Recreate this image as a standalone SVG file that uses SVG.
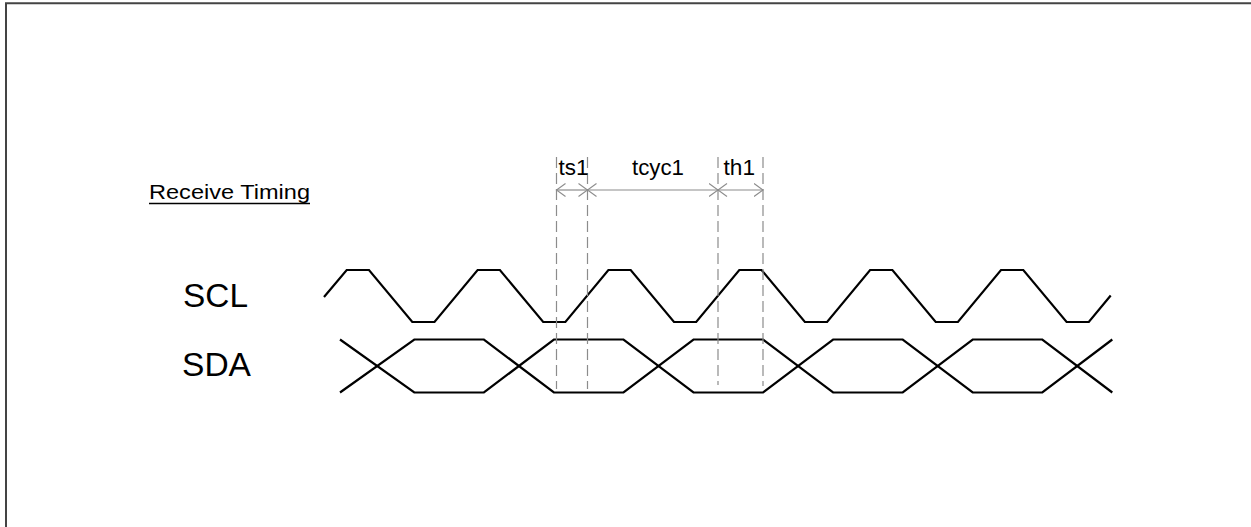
<svg xmlns="http://www.w3.org/2000/svg" width="1251" height="527" viewBox="0 0 1251 527">
  <style>
    .wave { fill: none; stroke: #000; stroke-width: 2.2; stroke-linejoin: miter; }
    .ext { stroke: #8c8c8c; stroke-width: 1.2; stroke-dasharray: 11 5; fill: none; }
    .dim { stroke: #8c8c8c; stroke-width: 1.2; fill: none; }
    .lbl { font-family: "Liberation Sans", Arial, sans-serif; fill: #000; }
  </style>
  <defs>
    <marker id="arr" markerUnits="userSpaceOnUse" markerWidth="12" markerHeight="15" refX="9.5" refY="7" orient="auto-start-reverse" viewBox="0 0 12 15">
      <path d="M0.5,0.5 L9.5,7 L0.5,13.5" fill="none" stroke="#8c8c8c" stroke-width="1.1"/>
    </marker>
  </defs>
  <rect width="1251" height="527" fill="#fff"/>
  <g id="frame">
    <path d="M6,527 V3.2 H1251" fill="none" stroke="#444" stroke-width="2"/>
  </g>
  <g id="title">
    <text class="lbl" x="149" y="198.5" font-size="20.5" textLength="161" lengthAdjust="spacingAndGlyphs">Receive Timing</text>
    <line x1="149" y1="203.5" x2="310" y2="203.5" stroke="#000" stroke-width="1.4"/>
  </g>
  <g id="scl">
    <text class="lbl" x="183" y="306.5" font-size="34" textLength="65" lengthAdjust="spacingAndGlyphs">SCL</text>
    <path class="wave" d="M324,297 L346.7,270 L369,270 L412.3,322 L434.5,322 L477.6,270 L499.9,270 L543.2,322 L565.4,322 L608.4,270 L630.7,270 L674,322 L696.2,322 L739.3,270 L761.6,270 L804.9,322 L827.1,322 L870.1,270 L892.4,270 L935.7,322 L957.9,322 L1001,270 L1023.3,270 L1066.6,322 L1088.8,322 L1110.7,295.5"/>
  </g>
  <g id="sda">
    <text class="lbl" x="182" y="376" font-size="33" textLength="69" lengthAdjust="spacingAndGlyphs">SDA</text>
    <path class="wave" d="M340,339.5 L414.3,392.5 L483.9,392.5 L553.9,339.5 L623.5,339.5 L693.5,392.5 L763.1,392.5 L833.1,339.5 L902.7,339.5 L972.7,392.5 L1042.3,392.5 L1112.3,339.5"/>
    <path class="wave" d="M340,392.5 L414.3,339.5 L483.9,339.5 L553.9,392.5 L623.5,392.5 L693.5,339.5 L763.1,339.5 L833.1,392.5 L902.7,392.5 L972.7,339.5 L1042.3,339.5 L1112.3,392.5"/>
  </g>
  <g id="connectors">
    <line class="ext" x1="556.5" y1="157" x2="556.5" y2="389"/>
    <line class="ext" x1="587.5" y1="157" x2="587.5" y2="389"/>
    <line class="ext" x1="718" y1="157" x2="718" y2="385"/>
    <line class="ext" x1="763" y1="157" x2="763" y2="386"/>
    <line class="dim" x1="556.5" y1="190" x2="587.5" y2="190" marker-start="url(#arr)" marker-end="url(#arr)"/>
    <line class="dim" x1="587.5" y1="190" x2="718" y2="190" marker-start="url(#arr)" marker-end="url(#arr)"/>
    <line class="dim" x1="718" y1="190" x2="763" y2="190" marker-start="url(#arr)" marker-end="url(#arr)"/>
  </g>
  <g id="labels">
    <text class="lbl" x="558.5" y="175" font-size="22.5" textLength="30" lengthAdjust="spacingAndGlyphs">ts1</text>
    <text class="lbl" x="632" y="175" font-size="22.5" textLength="52" lengthAdjust="spacingAndGlyphs">tcyc1</text>
    <text class="lbl" x="723.5" y="175" font-size="22.5" textLength="31.5" lengthAdjust="spacingAndGlyphs">th1</text>
  </g>
</svg>
